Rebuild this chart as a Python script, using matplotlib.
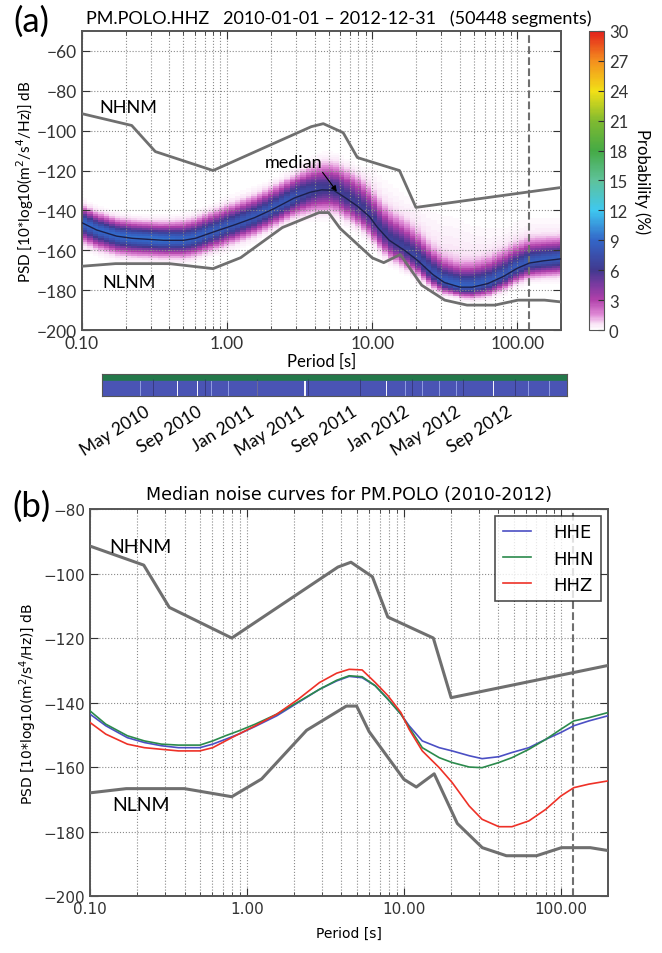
"""
PPSD figure for PM.POLO
(a) probabilistic PSD of HHZ with the data coverage bar underneath
(b) median noise curves of the three components against Peterson's models
"""
import datetime as dt
import numpy as np
import matplotlib
matplotlib.use('Agg')
import matplotlib.pyplot as plt
import matplotlib.dates as mdates
from matplotlib.colors import LinearSegmentedColormap
from matplotlib.ticker import FormatStrFormatter

OUT_FILE = "out.png"
FONT_A = ['Lato', 'DejaVu Sans']
FONT_B = ['DejaVu Sans']

# Peterson (1993) noise model corners, period [s] / dB
NLNM_PERIOD = [0.1, 0.17, 0.4, 0.8, 1.24, 2.4, 4.3, 5.0, 6.0, 10.0, 12.0, 15.6,
               21.9, 31.6, 45.0, 70.0, 101.0, 154.0, 200.0]
NLNM_DB = [-168.0, -166.7, -166.7, -169.2, -163.7, -148.6, -141.1, -141.1, -149.0,
           -163.8, -166.2, -162.1, -177.5, -185.0, -187.5, -187.5, -185.0, -185.0, -185.9]
NHNM_PERIOD = [0.1, 0.22, 0.32, 0.8, 3.8, 4.6, 6.3, 7.9, 15.4, 20.0, 200.0]
NHNM_DB = [-91.5, -97.4, -110.5, -120.0, -98.0, -96.5, -101.0, -113.5, -120.0, -138.5, -128.5]

# median curves
MED_PERIOD = [0.100, 0.126, 0.173, 0.222, 0.285, 0.366, 0.501, 0.605, 0.730, 0.885,
              1.13, 1.55, 2.12, 2.90, 3.73, 4.48, 5.42, 6.57, 7.92, 9.57, 10.8, 13.1,
              16.8, 20.3, 26.1, 31.5, 40.3, 48.8, 62.6, 80.3, 100.0, 121.0, 151.0, 200.0]
HHE = [-143.6, -147.2, -150.9, -152.4, -153.4, -154.0, -154.0, -152.9, -151.4, -149.8,
       -147.4, -144.1, -140.0, -135.9, -133.3, -131.9, -132.3, -134.8, -139.0, -143.6,
       -147.2, -151.9, -154.0, -155.0, -156.5, -157.4, -156.8, -155.5, -154.0, -151.4,
       -149.3, -147.2, -145.7, -144.1]
HHN = [-142.6, -146.7, -150.3, -151.9, -152.9, -153.2, -153.2, -151.9, -150.3, -148.8,
       -146.7, -143.6, -139.8, -135.9, -133.1, -131.7, -132.0, -134.8, -139.0, -143.6,
       -147.7, -154.0, -157.1, -158.6, -160.0, -160.2, -158.6, -157.1, -154.5, -151.4,
       -148.3, -145.7, -144.7, -143.1]
HHZ = [-146.2, -149.8, -152.9, -154.0, -154.5, -155.0, -155.0, -154.0, -151.9, -149.8,
       -147.2, -143.6, -139.0, -133.8, -130.9, -129.7, -129.9, -133.8, -137.9, -143.1,
       -148.3, -155.0, -160.2, -164.8, -172.1, -176.2, -178.5, -178.5, -176.7, -173.1,
       -169.0, -166.4, -165.3, -164.3]

# spread of the HHZ histogram around the median (dB)
BAND_PERIOD = [0.1, 0.34, 0.96, 2.7, 4.6, 7.7, 10.6, 16.9, 37.0, 81.0, 200.0]
BAND_UP = [8.5, 8.5, 10.5, 11.0, 14.0, 15.0, 14.0, 14.0, 11.0, 12.0, 10.0]
BAND_DN = [9.5, 8.5, 9.0, 9.0, 11.5, 10.5, 10.5, 9.0, 5.0, 7.0, 8.5]
TAIL_UP = [9.0, 9.0, 11.0, 12.0, 17.0, 20.0, 33.0, 32.0, 40.0, 28.0, 24.0]
TAIL_PCT = [0.25, 0.25, 0.25, 0.3, 0.4, 0.6, 0.8, 0.9, 0.9, 0.8, 0.7]

# data coverage
T_START = dt.datetime(2010, 1, 1)
T_END = dt.datetime(2013, 1, 1)
GAP_DATES = ['2010-06-26', '2010-08-14', '2011-01-01', '2011-04-22', '2011-11-02', '2012-07-10']
GAP_DAYS = [2, 2, 2, 4, 2, 2]
SMALL_GAP_DATES = ['2010-02-19', '2010-04-01', '2010-05-15', '2010-09-16', '2010-10-26',
                   '2011-06-01', '2011-07-11', '2011-08-20', '2011-09-29', '2011-12-17',
                   '2012-01-26', '2012-03-06', '2012-04-15', '2012-10-02', '2012-11-20',
                   '2012-12-20']
DATE_TICKS = ['2010-05-01', '2010-09-01', '2011-01-01', '2011-05-01', '2011-09-01',
              '2012-01-01', '2012-05-01', '2012-09-01']

CUTOFF_PERIOD = 120.0
GRAY = '#6f6f6f'


def pqlx_cmap():
    colors = [(0.00, '#ffffff'), (0.02, '#f8e0f5'), (0.05, '#e08ad6'), (0.10, '#b040aa'),
              (0.15, '#7a3aa0'), (0.20, '#41398f'), (0.30, '#3366c8'), (0.40, '#3ec8f0'),
              (0.50, '#5ec29a'), (0.60, '#45aa45'), (0.70, '#80ba30'), (0.80, '#f2e016'),
              (0.90, '#f4901e'), (1.00, '#e4201c')]
    return LinearSegmentedColormap.from_list('pqlx', colors)


def style_psd_axes(ax, font, size):
    ax.set_xscale('log')
    ax.set_xlim(0.1, 200)
    ax.xaxis.set_major_formatter(FormatStrFormatter('%.2f'))
    ax.grid(True, which='both', axis='x', ls=':', color='#8a8a8a', lw=0.8)
    ax.grid(True, which='major', axis='y', ls=':', color='#8a8a8a', lw=0.8)
    ax.set_axisbelow('line')
    ax.tick_params(which='both', direction='in', top=True, right=True, colors='#333333')
    ax.tick_params(which='major', length=6)
    ax.tick_params(which='minor', length=3)
    for lab in ax.get_xticklabels() + ax.get_yticklabels():
        lab.set_family(font)
        lab.set_fontsize(size)
    for s in ax.spines.values():
        s.set_color('#555555')
        s.set_linewidth(1.4)
    ax.axvline(CUTOFF_PERIOD, color=GRAY, ls='--', lw=1.5)


def histogram_grid():
    """Probability (%) per period bin / 1 dB bin, built around the HHZ median"""
    log_edges = np.arange(-1.0, np.log10(200) + 0.04, 0.125 * np.log10(2))
    db_edges = np.arange(-200.0, -49.0, 1.0)
    lc = 0.5 * (log_edges[1:] + log_edges[:-1])
    dc = 0.5 * (db_edges[1:] + db_edges[:-1])
    lp = np.log10(BAND_PERIOD)
    med = np.interp(lc, np.log10(MED_PERIOD), HHZ)
    su = np.interp(lc, lp, BAND_UP) / 2.0
    sd = np.interp(lc, lp, BAND_DN) / 2.0
    tu = np.interp(lc, lp, TAIL_UP)
    tp = np.interp(lc, lp, TAIL_PCT)

    d = dc[:, None] - med[None, :]
    g = np.where(d >= 0, np.exp(-0.5 * (d / su) ** 2), np.exp(-0.5 * (d / sd) ** 2))
    tail = tp * np.clip(1 - d / tu, 0, 1) * (d >= 0)
    k = (100 - tail.sum(axis=0)) / g.sum(axis=0)
    prob = g * k + tail
    prob = np.ma.masked_less(prob, 0.12)
    return 10 ** log_edges, db_edges, prob


def plot_panel_a(fig):
    ax = fig.add_axes([0.1239, 0.6530, 0.7236, 0.3135])
    cax = fig.add_axes([0.8897, 0.6530, 0.0227, 0.3135])

    per_edges, db_edges, prob = histogram_grid()
    mesh = ax.pcolormesh(per_edges, db_edges, prob, cmap=pqlx_cmap(), vmin=0, vmax=30,
                         zorder=1)
    ax.plot(NHNM_PERIOD, NHNM_DB, color=GRAY, lw=2, zorder=3)
    ax.plot(NLNM_PERIOD, NLNM_DB, color=GRAY, lw=2, zorder=3)
    ax.plot(MED_PERIOD, HHZ, color='#1c1f4a', lw=1.0, zorder=3)

    ax.set_ylim(-200, -50)
    ax.set_yticks(np.arange(-200, -59, 20))
    style_psd_axes(ax, FONT_A, 12.5)
    ax.set_xlabel('Period [s]', family=FONT_A, fontsize=12, labelpad=1)
    ax.set_ylabel('PSD [10*log10(m$^2$/s$^4$/Hz)] dB', family=FONT_A, fontsize=11,
                  labelpad=1)
    ax.set_title('PM.POLO.HHZ   2010-01-01 \u2013 2012-12-31   (50448 segments)',
                 family=FONT_A, fontsize=13, pad=6, x=0.535)
    ax.text(0.21, -88, 'NHNM', ha='center', va='center', family=FONT_A, fontsize=13)
    ax.text(0.21, -176, 'NLNM', ha='center', va='center', family=FONT_A, fontsize=13)
    ax.annotate('median', xy=(5.7, -130.5), xytext=(2.86, -115.5), ha='center', va='center',
                family=FONT_A, fontsize=13,
                arrowprops=dict(arrowstyle='-|>', color='k', lw=0.8, mutation_scale=8,
                                shrinkA=0, shrinkB=0, relpos=(0.95, 0.1)))
    fig.text(0.048, 0.977, '(a)', family=FONT_A, fontsize=25, ha='center', va='center')

    cbar = fig.colorbar(mesh, cax=cax, ticks=np.arange(0, 31, 3))
    cbar.outline.set_edgecolor('#555555')
    cax.tick_params(direction='in', length=4, labelsize=12, colors='#333333')
    for lab in cax.get_yticklabels():
        lab.set_family(FONT_A)
    cbar.set_label('Probability (%)', rotation=270, family=FONT_A, fontsize=12, labelpad=16)


def plot_coverage(fig):
    ax = fig.add_axes([0.1541, 0.5839, 0.7024, 0.0231])
    ax.axhspan(0.7, 1.0, color='#23784a')
    ax.axhspan(0.0, 0.7, color='#4a54b4')
    for d in SMALL_GAP_DATES:
        x = mdates.date2num(dt.datetime.fromisoformat(d))
        ax.axvspan(x, x + 1.2, ymin=0, ymax=0.7, color='#8f9be0', lw=0)
    for d, w in zip(GAP_DATES, GAP_DAYS):
        x = mdates.date2num(dt.datetime.fromisoformat(d))
        ax.axvspan(x, x + w, ymin=0, ymax=0.7, color='#f4f4fb', lw=0)
    ax.set_xlim(T_START, T_END)
    ax.set_ylim(0, 1)
    ax.set_yticks([])
    ticks = [dt.datetime.fromisoformat(d) for d in DATE_TICKS]
    ax.set_xticks(ticks)
    ax.xaxis.set_major_formatter(mdates.DateFormatter('%b %Y'))
    ax.tick_params(axis='x', direction='in', length=12, color='#30306a', width=0.5, pad=5)
    for lab in ax.get_xticklabels():
        lab.set_family(FONT_A)
        lab.set_fontsize(12.5)
        lab.set_rotation(32)
        lab.set_ha('right')
    for s in ax.spines.values():
        s.set_color('#555555')


def plot_panel_b(fig):
    ax = fig.add_axes([0.1360, 0.0597, 0.7825, 0.4057])
    ax.plot(NHNM_PERIOD, NHNM_DB, color=GRAY, lw=2.2, zorder=3)
    ax.plot(NLNM_PERIOD, NLNM_DB, color=GRAY, lw=2.2, zorder=3)
    ax.plot(MED_PERIOD, HHE, color='#4b4fc4', lw=1.2, label='HHE', zorder=4)
    ax.plot(MED_PERIOD, HHN, color='#2b8a4c', lw=1.2, label='HHN', zorder=4)
    ax.plot(MED_PERIOD, HHZ, color='#ee3127', lw=1.2, label='HHZ', zorder=4)

    ax.set_ylim(-200, -80)
    ax.set_yticks(np.arange(-200, -79, 20))
    style_psd_axes(ax, FONT_B, 11)
    ax.set_xlabel('Period [s]', family=FONT_B, fontsize=10, labelpad=7)
    ax.set_ylabel('PSD [10*log10(m$^2$/s$^4$/Hz)] dB', family=FONT_B, fontsize=10,
                  labelpad=3)
    ax.set_title('Median noise curves for PM.POLO (2010-2012)', family=FONT_B,
                 fontsize=12.5, pad=7)
    leg = ax.legend(loc='upper right', prop={'family': FONT_B, 'size': 13},
                    fancybox=False, edgecolor='#222222', handlelength=1.6,
                    borderaxespad=0.4, labelspacing=0.45, handletextpad=1.2)
    leg.get_frame().set_linewidth(1.2)
    leg.set_zorder(5)
    ax.text(0.21, -91.5, 'NHNM', ha='center', va='center', family=FONT_A, fontsize=14)
    ax.text(0.21, -171.5, 'NLNM', ha='center', va='center', family=FONT_A, fontsize=14)
    fig.text(0.048, 0.469, '(b)', family=FONT_A, fontsize=25, ha='center', va='center')


def main():
    fig = plt.figure(figsize=(6.62, 9.54), dpi=100)
    plot_panel_a(fig)
    plot_coverage(fig)
    plot_panel_b(fig)
    fig.savefig(OUT_FILE, dpi=100)
    print(f"Plot saved: {OUT_FILE}")


if __name__ == "__main__":
    main()
